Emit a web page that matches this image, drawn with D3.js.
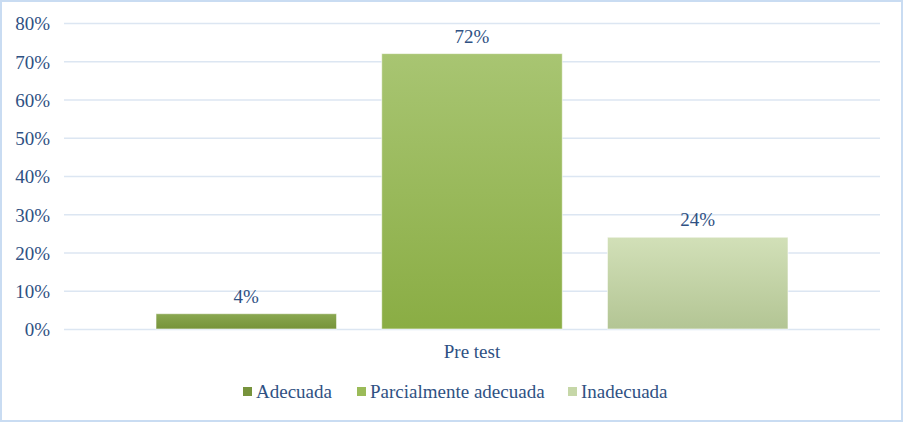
<!DOCTYPE html>
<html><head><meta charset="utf-8">
<script src="https://cdn.jsdelivr.net/npm/d3@7"></script>
<style>body{margin:0;background:#fff}svg{display:block}svg text{font-family:"Liberation Serif","Times New Roman","DejaVu Serif",serif}</style>
</head><body>
<svg id="c" width="903" height="422"></svg>
<script>
const categories = ["Pre test"];
const seriesNames = ["Adecuada", "Parcialmente adecuada", "Inadecuada"];
const seriesValues = [4, 72, 24];
const tickValues = [0, 10, 20, 30, 40, 50, 60, 70, 80];

const colors = [
  {top: "#8aa851", bottom: "#76933a", legend: "#77933c"},
  {top: "#a8c572", bottom: "#8aad44", legend: "#9bbb59"},
  {top: "#d2e0b8", bottom: "#b3c594", legend: "#c6d7a8"}
];
const textColor = "#2f5183";
const fontSize = 19;

const svg = d3.select("#c");
svg.append("rect").attr("x", 1).attr("y", 1).attr("width", 901).attr("height", 420)
  .attr("fill", "#fff").attr("stroke", "#c9dcf2").attr("stroke-width", 2);

const plotLeft = 64, plotRight = 880, plotTop = 23, plotBottom = 329;
const y = d3.scaleLinear().domain([0, 80]).range([plotBottom, plotTop]);
const x0 = d3.scaleBand().domain(categories).range([plotLeft, plotRight]).paddingInner(0).paddingOuter(0);
const x1 = d3.scaleBand().domain(seriesNames).range([x0("Pre test") + 92, x0("Pre test") + x0.bandwidth() - 92]).paddingInner(0.2);

const defs = svg.append("defs");
colors.forEach((c, i) => {
  const g = defs.append("linearGradient").attr("id", "g" + i).attr("x1", 0).attr("y1", 0).attr("x2", 0).attr("y2", 1);
  g.append("stop").attr("offset", "0%").attr("stop-color", c.top);
  g.append("stop").attr("offset", "100%").attr("stop-color", c.bottom);
});

// gridlines
svg.append("g").selectAll("line").data(tickValues).join("line")
  .attr("x1", plotLeft).attr("x2", plotRight)
  .attr("y1", d => y(d) + 0.5).attr("y2", d => y(d) + 0.5)
  .attr("stroke", "#dce6f2").attr("stroke-width", 1.5);

// y axis labels
const yAxis = d3.axisLeft(y).tickValues(tickValues).tickFormat(d => d + "%").tickSize(0).tickPadding(0);
const ya = svg.append("g").attr("transform", `translate(${plotLeft - 14},0)`).call(yAxis);
ya.select(".domain").remove();
ya.attr("font-family", null).attr("font-size", null);
ya.selectAll("text").style("font-size", fontSize + "px").attr("fill", textColor).attr("dy", "0.36em");

// bars
const bars = svg.append("g");
seriesNames.forEach((s, i) => {
  const v = seriesValues[i];
  bars.append("rect")
    .attr("x", x1(s)).attr("width", x1.bandwidth())
    .attr("y", y(v)).attr("height", y(0) - y(v))
    .attr("fill", `url(#g${i})`)
    .attr("stroke", "#ffffff").attr("stroke-opacity", 0.6).attr("stroke-width", 1);
  bars.append("text")
    .attr("x", x1(s) + x1.bandwidth() / 2).attr("y", y(v) - 11)
    .attr("text-anchor", "middle").style("font-size", fontSize + "px")
    .attr("fill", textColor).text(v + "%");
});

// x axis
const xAxis = d3.axisBottom(x0).tickSize(0).tickPadding(0);
const xa = svg.append("g").attr("transform", `translate(0,${plotBottom + 15})`).call(xAxis);
xa.select(".domain").remove();
xa.attr("font-family", null).attr("font-size", null);
xa.selectAll("text").style("font-size", fontSize + "px").attr("fill", textColor).attr("dy", "0.71em");

// legend
const legendItems = [
  {name: seriesNames[0], x: 243},
  {name: seriesNames[1], x: 357},
  {name: seriesNames[2], x: 568}
];
const lg = svg.append("g");
legendItems.forEach((it, i) => {
  lg.append("rect").attr("x", it.x).attr("y", 387).attr("width", 9).attr("height", 9).attr("fill", colors[i].legend);
  lg.append("text").attr("x", it.x + 13).attr("y", 398).style("font-size", fontSize + "px")
    .attr("fill", textColor).text(it.name);
});
</script>
</body></html>
